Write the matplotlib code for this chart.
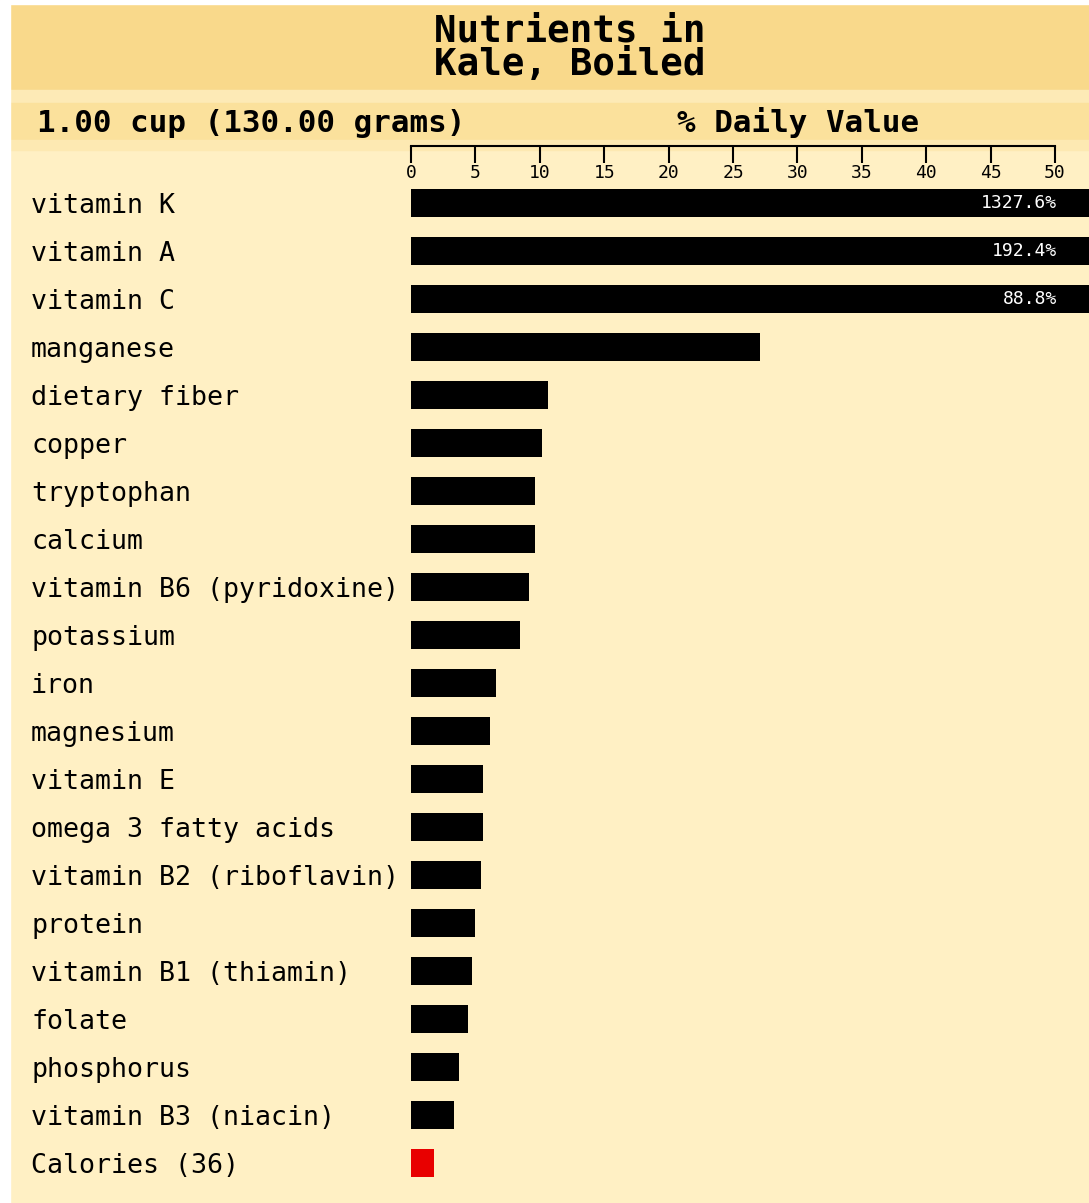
import matplotlib.pyplot as plt
from matplotlib.patches import Rectangle

# data (% daily value)
nutrients = [
    "vitamin K", "vitamin A", "vitamin C", "manganese", "dietary fiber",
    "copper", "tryptophan", "calcium", "vitamin B6 (pyridoxine)", "potassium",
    "iron", "magnesium", "vitamin E", "omega 3 fatty acids",
    "vitamin B2 (riboflavin)", "protein", "vitamin B1 (thiamin)", "folate",
    "phosphorus", "vitamin B3 (niacin)", "Calories (36)",
]
daily_value = [
    1327.6, 192.4, 88.8, 27.1, 10.6,
    10.2, 9.6, 9.6, 9.2, 8.5,
    6.6, 6.1, 5.6, 5.6,
    5.4, 5.0, 4.7, 4.4,
    3.7, 3.3, 1.8,
]
bar_colors = ["black"] * 20 + ["#e80000"]
ticks = [0, 5, 10, 15, 20, 25, 30, 35, 40, 45, 50]

W, H = 1089, 1203
body_col = "#fff0c4"
head_col = "#f9d98b"
band_col = "#fbe19c"
mono = "DejaVu Sans Mono"

fig = plt.figure(figsize=(W / 100, H / 100), dpi=100, facecolor=body_col)

# background bands (figure pixel coords -> fractions), kept under the axes
def band(x0, y0, x1, y1, color):
    fig.patches.append(Rectangle((x0 / W, 1 - y1 / H), (x1 - x0) / W, (y1 - y0) / H,
                                 transform=fig.transFigure, color=color, zorder=-5))

band(10, 4, W, 90, head_col)
band(10, 90, W, 103, "#fdeab6")
band(10, 103, W, 140, band_col)
band(10, 140, W, 150, "#fde9b2")
band(0, 0, 10, H, "white")
band(0, 0, W, 4, "white")

fig.text(570 / W, 1 - 48 / H, "Nutrients in\nKale, Boiled", ha="center", va="center",
         family=mono, fontsize=27, fontweight="bold", linespacing=0.92)
fig.text(37 / W, 1 - 123 / H, "1.00 cup (130.00 grams)", ha="left", va="center",
         family=mono, fontsize=22.2, fontweight="bold")
fig.text(677 / W, 1 - 123 / H, "% Daily Value", ha="left", va="center",
         family=mono, fontsize=22.2, fontweight="bold")

# axes: x=0 at px 411, x=50 at px 1055; row i centred at px 203 + 48*i
px_per_unit = (1055 - 411) / 50
ax_top, ax_bot = 146, 1195
ax = fig.add_axes([411 / W, 1 - ax_bot / H, (W - 411) / W, (ax_bot - ax_top) / H])
ax.set_facecolor("none")
ax.set_xlim(0, (W - 411) / px_per_unit)
ax.set_ylim((ax_bot - 203) / 48, (ax_top - 203) / 48)

rows = list(range(len(nutrients)))
ax.barh(rows, daily_value, height=0.6, color=bar_colors)

for i, v in enumerate(daily_value):
    if v > 50:
        ax.text(50.15, i, f"{v:.1f}%", ha="right", va="center", color="white",
                family=mono, fontsize=13)

for s in ["left", "right", "bottom"]:
    ax.spines[s].set_visible(False)
ax.spines["top"].set_bounds(0, 50)
ax.spines["top"].set_linewidth(1.5)

ax.set_xticks(ticks)
ax.set_xticklabels([str(t) for t in ticks], family=mono, fontsize=13)
ax.tick_params(axis="x", top=True, labeltop=True, bottom=False, labelbottom=False,
               direction="in", length=12, width=1.5, pad=-26)

ax.set_yticks(rows)
ax.set_yticklabels(nutrients, family=mono, fontsize=19.2, ha="left")
ax.tick_params(axis="y", left=False, length=0, pad=(411 - 31) * 0.72)

fig.savefig("out.png", dpi=100, facecolor=body_col)
